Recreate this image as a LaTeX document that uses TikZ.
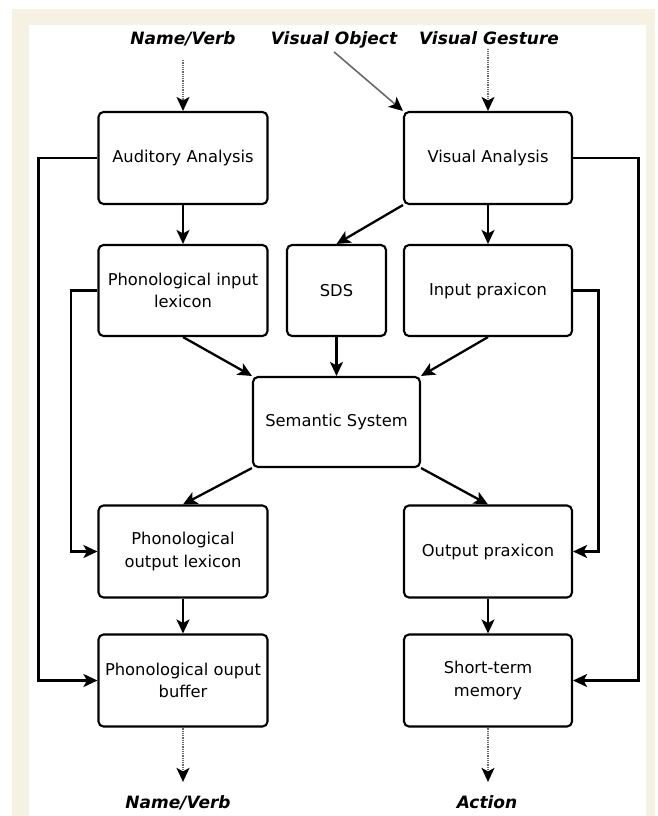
\documentclass[tikz,border=0pt]{standalone}
\usepackage{fontspec}
\setmainfont{DejaVu Sans}
\usetikzlibrary{arrows.meta}
\definecolor{cream}{RGB}{245,242,228}
\definecolor{dotgray}{RGB}{105,105,105}
\begin{document}
\begin{tikzpicture}[x=1pt,y=-1pt,
  box/.style={draw, line width=2.1pt, rounded corners=5pt, inner sep=2pt,
    align=center, font=\fontsize{16.3}{22.5}\selectfont},
  lcol/.style={box, minimum width=169pt},
  rcol/.style={box, minimum width=168pt},
  tip/.style={-{Stealth[length=14pt,width=13pt,inset=3.5pt,color=black]}},
  arr/.style={tip, line width=2.3pt},
  dotarr/.style={tip, draw=dotgray, line width=1.8pt, dash pattern=on 1pt off 0.8pt},
  grayarr/.style={tip, draw=dotgray, line width=1.6pt},
  lbl/.style={font=\fontsize{17}{20}\selectfont\bfseries\itshape, inner sep=3pt, anchor=base}
]
\useasboundingbox (0,0) rectangle (658,816);
\fill[white] (0,0) rectangle (658,816);
\fill[cream] (12,9) rectangle (655,816);
\fill[white] (29,25) rectangle (646,816);

% boxes
\node[lcol, minimum height=92pt] (aa)  at (183,158)   {Auditory Analysis};
\node[rcol, minimum height=92pt] (va)  at (488,158)   {Visual Analysis};
\node[lcol, minimum height=91pt] (pil) at (183,290.5) {Phonological input\\lexicon};
\node[box, minimum width=99pt, minimum height=91pt] (sds) at (336.5,290.5) {SDS};
\node[rcol, minimum height=91pt] (ip)  at (488,290.5) {Input praxicon};
\node[box, minimum width=167pt, minimum height=90pt] (ss) at (336.5,422) {Semantic System};
\node[lcol, minimum height=92pt] (pol) at (183,551.5) {Phonological\\output lexicon};
\node[rcol, minimum height=92pt] (op)  at (488,551.5) {Output praxicon};
\node[lcol, minimum height=92pt] (pob) at (183,680.5) {Phonological ouput\\buffer};
\node[rcol, minimum height=92pt] (stm) at (488,680.5) {Short-term\\memory};

% labels
\node[lbl] (nv1) at (183,45) {Name/Verb};
\node[lbl] (vo)  at (334,45) {Visual Object};
\node[lbl] (vg)  at (489,45) {Visual Gesture};
\node[lbl] (nv2) at (178,808) {Name/Verb};
\node[lbl] (act) at (487,808) {Action};

% inputs
\draw[dotarr, shorten <=10pt] (nv1.south) -- (aa.north);
\draw[dotarr, shorten <=1pt] (vg.south -| va.north) -- (va.north);
\draw[grayarr] (vo.south) -- (va.north west);

% main connectors
\draw[arr] (aa.south) -- (pil.north);
\draw[arr] (va.south west) -- (sds.north);
\draw[arr] (va.south) -- (ip.north);
\draw[arr] (pil.south) -- (ss.north west);
\draw[arr] (sds.south) -- (ss.north);
\draw[arr] (ip.south) -- (ss.north east);
\draw[arr] (ss.south west) -- (pol.north);
\draw[arr] (ss.south east) -- (op.north);
\draw[arr] (pol.south) -- (pob.north);
\draw[arr] (op.south) -- (stm.north);

% feedback routes
\draw[arr] (aa.west) -- ++(-59,0) |- (pob.west);
\draw[arr] (pil.west) -- ++(-26.5,0) |- (pol.west);
\draw[arr] (va.east) -- ++(65.5,0) |- (stm.east);
\draw[arr] (ip.east) -- ++(25.5,0) |- (op.east);

% outputs
\draw[dotarr, shorten >=10pt] (pob.south) -- (pob.south |- nv2.north);
\draw[dotarr, shorten >=10pt] (stm.south) -- (stm.south |- act.north);
\end{tikzpicture}
\end{document}
